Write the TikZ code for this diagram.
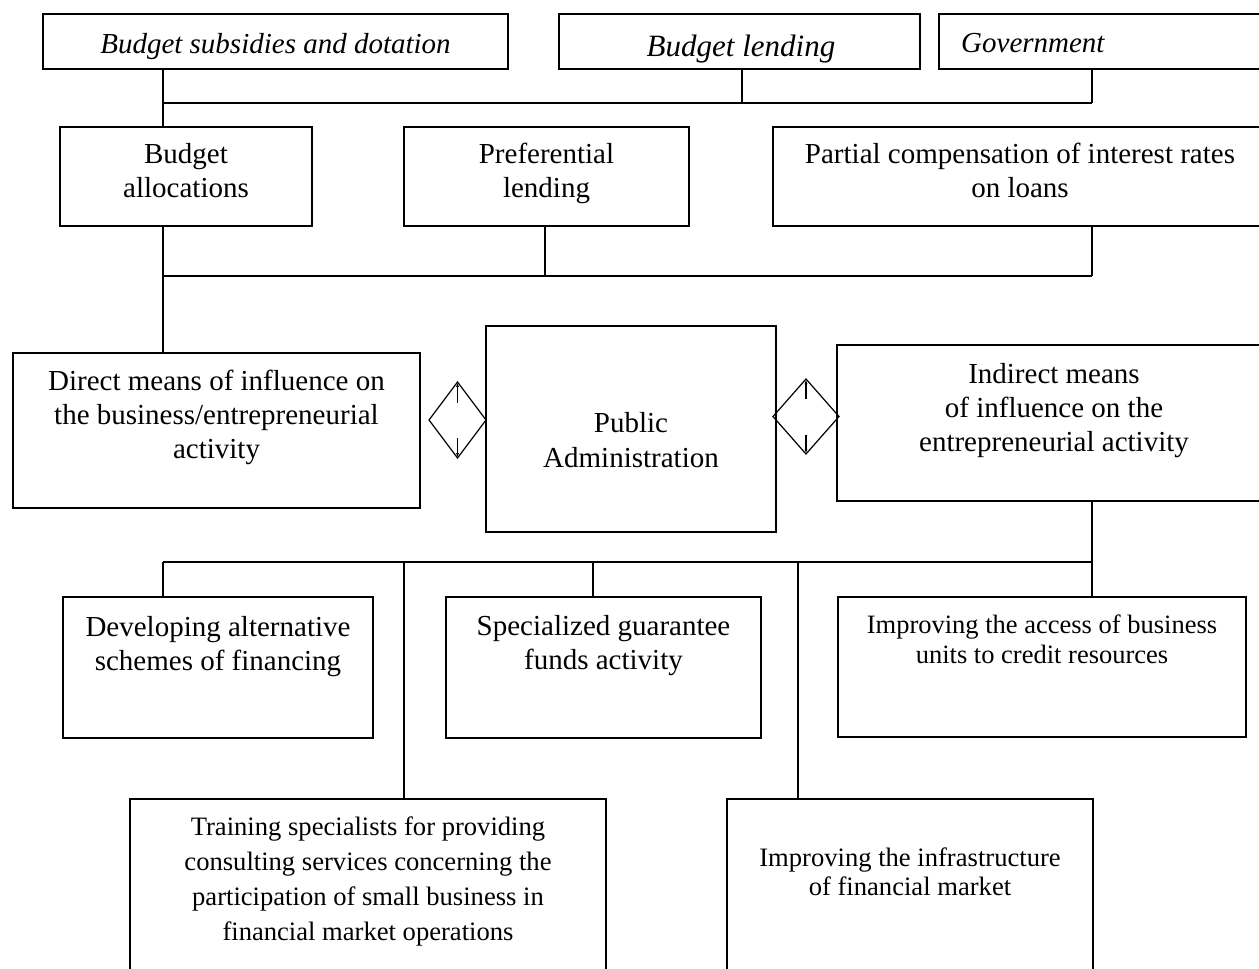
\documentclass[tikz,border=0pt]{standalone}
\usepackage{fontspec}
\setmainfont{Liberation Serif}
\usetikzlibrary{arrows.meta,shapes.geometric}
\begin{document}
\begin{tikzpicture}[x=1pt,y=-1pt,
  box/.style={draw, line width=1.4pt, rectangle, anchor=north west, inner sep=0pt, outer sep=0pt},
  conn/.style={line width=1.1pt},
  dia/.style={draw, line width=1.2pt, diamond, inner sep=0pt, outer sep=0pt},
  arr/.style={line width=1.2pt, -{Latex[length=5pt,width=3pt]}},
  txt/.style={anchor=north, inner sep=0pt, align=center},
  fA/.style={font=\fontsize{29}{34}\selectfont},
  fAi/.style={font=\fontsize{29}{34}\selectfont\itshape},
  fBi/.style={font=\fontsize{31}{36}\selectfont\itshape},
  fP/.style={font=\fontsize{29}{35}\selectfont},
  fS/.style={font=\fontsize{26.5}{30}\selectfont},
  fT/.style={font=\fontsize{26.6}{35}\selectfont},
  fI/.style={font=\fontsize{26.6}{29}\selectfont}
]
\useasboundingbox (0,0) rectangle (1259,969);
\clip (0,0) rectangle (1259,969);

% ---- top row
\node[box, minimum width=465, minimum height=55] (bsd) at (43,14) {};
\node[box, minimum width=361, minimum height=55] (bl) at (559,14) {};
\node[box, minimum width=400, minimum height=55] (gov) at (939,14) {};
\node[txt, fAi] (bsdT) at (275.5,29.2) {\strut Budget subsidies and dotation};
\node[txt, fBi] (blT) at (741,30.8) {\strut Budget lending};
\node[txt, fAi, anchor=north west] (govT) at (961,28.2) {\strut Government};

% ---- second row
\node[box, minimum width=252, minimum height=99] (alloc) at (60,127) {};
\node[box, minimum width=285, minimum height=99] (pref) at (404,127) {};
\node[box, minimum width=494, minimum height=99] (part) at (773,127) {};
\node[txt, fA] (allocT) at (186,139.2) {\strut Budget\\allocations};
\node[txt, fA] (prefT) at (546.5,139.2) {\strut Preferential\\lending};
\node[txt, fA] (partT) at (1020,139.2) {\strut Partial compensation of interest rates\\on loans};

% ---- middle row
\node[box, minimum width=407, minimum height=155] (direct) at (13,353) {};
\node[box, minimum width=290, minimum height=206] (pa) at (486,326) {};
\node[box, minimum width=434, minimum height=156] (indirect) at (837,345) {};
\node[txt, fA] (directT) at (216.5,366.2) {\strut Direct means of influence on\\the business/entrepreneurial\\activity};
\node[txt, fP] (paT) at (631,407.5) {\strut Public\\Administration};
\node[txt, fA] (indirectT) at (1054,359.2) {\strut Indirect means\\of influence on the\\entrepreneurial activity};

% ---- diamonds
\node[dia, minimum width=57, minimum height=76] (dL) at (457.5,420) {};
\node[dia, minimum width=66, minimum height=75] (dR) at (806,416.5) {};
\draw[arr] ([yshift=17pt]dL.center) -- (dL.north);
\draw[arr] ([yshift=-18pt]dL.center) -- (dL.south);
\draw[arr] ([yshift=17.5pt]dR.center) -- (dR.north);
\draw[arr] ([yshift=-18.5pt]dR.center) -- (dR.south);

% ---- third row
\node[box, minimum width=310, minimum height=141] (dev) at (63,597) {};
\node[box, minimum width=315, minimum height=141] (spec) at (446,597) {};
\node[box, minimum width=408, minimum height=140] (access) at (838,597) {};
\node[txt, fA] (devT) at (218,612.2) {\strut Developing alternative\\schemes of financing};
\node[txt, fA] (specT) at (603.5,611.2) {\strut Specialized guarantee\\funds activity};
\node[txt, fS] (accessT) at (1042,612) {\strut Improving the access of business\\units to credit resources};

% ---- bottom row
\node[box, minimum width=476, minimum height=220] (train) at (130,799) {};
\node[box, minimum width=366, minimum height=220] (infra) at (727,799) {};
\node[txt, fT] (trainT) at (368,810.5) {\strut Training specialists for providing\\consulting services concerning the\\participation of small business in\\financial market operations};
\node[txt, fI] (infraT) at (910,845.7) {\strut Improving the infrastructure\\of financial market};

% ---- connectors
\coordinate (b1L) at (163,103);
\coordinate (b1M) at (742,103);
\coordinate (b1R) at (1092,103);
\coordinate (b2L) at (163,276);
\coordinate (b2M) at (545,276);
\coordinate (b2R) at (1092,276);
\coordinate (b3L) at (163,562);
\coordinate (b3R) at (1092,562);
\coordinate (b3a) at (404,562);
\coordinate (b3b) at (593,562);
\coordinate (b3c) at (798,562);

\draw[conn] (bsd.south -| b1L) -- (alloc.north -| b1L);
\draw[conn] (b1L) -- (b1R);
\draw[conn] (bl.south -| b1M) -- (b1M);
\draw[conn] (gov.south -| b1R) -- (b1R);

\draw[conn] (alloc.south -| b2L) -- (direct.north -| b2L);
\draw[conn] (b2L) -- (b2R);
\draw[conn] (pref.south -| b2M) -- (b2M);
\draw[conn] (part.south -| b2R) -- (b2R);

\draw[conn] (indirect.south -| b3R) -- (access.north -| b3R);
\draw[conn] (b3L) -- (b3R);
\draw[conn] (b3L) -- (dev.north -| b3L);
\draw[conn] (b3a) -- (train.north -| b3a);
\draw[conn] (b3b) -- (spec.north -| b3b);
\draw[conn] (b3c) -- (infra.north -| b3c);
\end{tikzpicture}
\end{document}
